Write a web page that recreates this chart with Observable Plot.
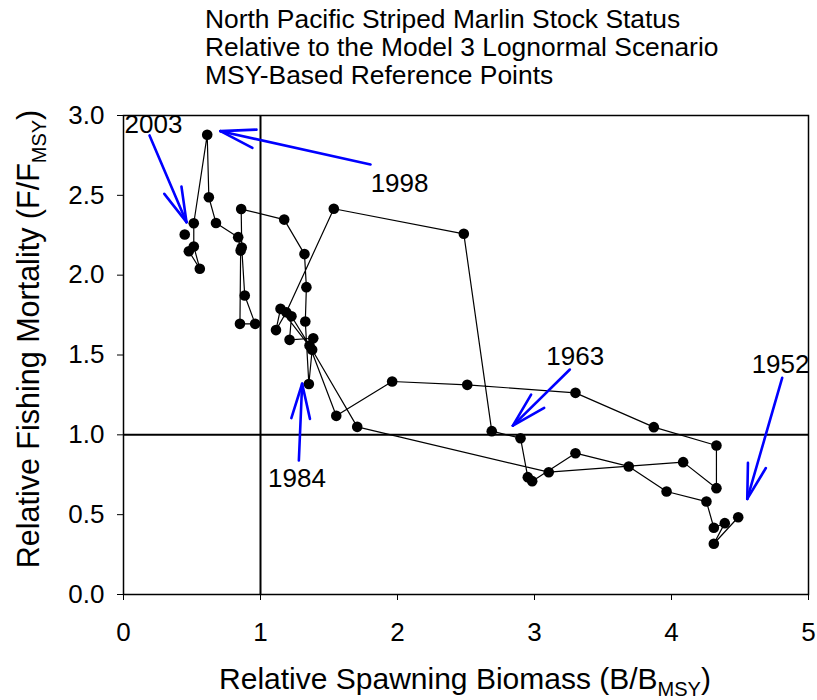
<!DOCTYPE html>
<html><head><meta charset="utf-8">
<script src="https://cdn.jsdelivr.net/npm/d3@7"></script>
<script src="https://cdn.jsdelivr.net/npm/@observablehq/plot@0.6"></script>
<style>
body{margin:0;background:#fff;}
#title{position:absolute;left:205px;top:0;padding-top:5px;font:26.4px/28px "Liberation Sans",Arial,sans-serif;color:#000;white-space:nowrap;}
#chart{position:absolute;left:0;top:95px;}
</style></head><body>
<div id="title">North Pacific Striped Marlin Stock Status<br>Relative to the Model 3 Lognormal Scenario<br>MSY-Based Reference Points</div>
<div id="chart"></div>
<script>
// Stock trajectory, 1952-2003
const years = [1952,1953,1954,1955,1956,1957,1958,1959,1960,1961,1962,1963,1964,1965,1966,1967,1968,1969,1970,1971,1972,1973,1974,1975,1976,1977,1978,1979,1980,1981,1982,1983,1984,1985,1986,1987,1988,1989,1990,1991,1992,1993,1994,1995,1996,1997,1998,1999,2000,2001,2002,2003];
const biomass = [4.487,4.309,4.389,4.309,4.255,3.964,3.688,3.299,2.983,2.951,2.898,2.688,2.484,1.535,1.188,1.113,1.146,1.377,1.706,3.104,4.085,4.328,4.328,3.871,3.299,2.509,1.961,1.553,1.358,1.226,1.212,1.385,1.353,1.327,1.335,1.321,1.173,0.859,0.863,0.885,0.961,0.850,0.855,0.837,0.675,0.623,0.611,0.513,0.513,0.557,0.477,0.447];
const fishing = [0.484,0.318,0.447,0.418,0.582,0.645,0.802,0.885,0.710,0.735,0.979,1.023,2.259,2.416,1.768,1.656,1.789,1.533,1.050,0.766,0.829,0.666,0.933,1.048,1.263,1.313,1.334,1.119,1.559,1.743,1.595,1.605,1.318,1.710,1.925,2.132,2.348,2.414,2.173,1.873,1.695,1.695,2.154,2.238,2.327,2.488,2.879,2.325,2.180,2.040,2.150,2.255];
const lastConnectedYear = 2002;

const xTicks = [0,1,2,3,4,5];
const yTicks = [0,0.5,1,1.5,2,2.5,3];
const refB = [1];
const refF = [1];

// Year annotations
const labelText = ["2003","1998","1963","1952","1984"];
const labelX = [0.219,2.015,3.297,4.796,1.266];
const labelY = [2.944,2.574,1.492,1.440,0.726];
const arrowX1 = [0.190,1.803,3.258,4.808,1.280];
const arrowY1 = [2.875,2.693,1.409,1.357,0.839];
const arrowX2 = [0.460,0.708,2.842,4.553,1.304];
const arrowY2 = [2.332,2.902,1.058,0.599,1.320];

const W = 817, H = 605, mL = 123, mR = 9, mT = 20, mB = 106;
const font = '"Liberation Sans", Arial, sans-serif';

const pts = years.map((yr,i) => ({year: yr, b: biomass[i], f: fishing[i]}));
const labels = labelText.map((t,i) => ({t, x: labelX[i], y: labelY[i]}));
const arrows = labelText.map((t,i) => ({x1: arrowX1[i], y1: arrowY1[i], x2: arrowX2[i], y2: arrowY2[i]}));

const kx = (W - mL - mR) / 5, ky = (H - mT - mB) / 3;
const wingLen = 36, wingAngle = 15 * Math.PI / 180;
const wings = arrows.flatMap(a => {
  const dx = (a.x1 - a.x2) * kx, dy = -(a.y1 - a.y2) * ky;
  const th = Math.atan2(dy, dx);
  return [-1, 1].map(s => ({
    x1: a.x2, y1: a.y2,
    x2: a.x2 + wingLen * Math.cos(th + s * wingAngle) / kx,
    y2: a.y2 - wingLen * Math.sin(th + s * wingAngle) / ky
  }));
});

const plot = Plot.plot({
  width: W, height: H,
  marginLeft: mL, marginRight: mR, marginTop: mT, marginBottom: mB,
  style: {fontFamily: font, fontSize: "26px", color: "#000", background: "#fff", overflow: "visible"},
  x: {domain: [0, 5], ticks: xTicks, tickSize: 6, tickPadding: 22, tickFormat: d3.format("d"), label: null},
  y: {domain: [0, 3], ticks: yTicks, tickSize: 6, tickPadding: 13, tickFormat: d3.format(".1f"), label: null},
  marks: [
    Plot.ruleX(refB, {x: d => d, stroke: "#000", strokeWidth: 2}),
    Plot.ruleY(refF, {y: d => d, stroke: "#000", strokeWidth: 2}),
    Plot.line(pts.filter(d => d.year <= lastConnectedYear), {x: "b", y: "f", stroke: "#000", strokeWidth: 1.2}),
    Plot.dot(pts, {x: "b", y: "f", r: 5.3, fill: "#000", stroke: "none"}),
    Plot.link(arrows, {x1: "x1", y1: "y1", x2: "x2", y2: "y2", stroke: "#0000ff", strokeWidth: 2.6, strokeLinecap: "round"}),
    Plot.link(wings, {x1: "x1", y1: "y1", x2: "x2", y2: "y2", stroke: "#0000ff", strokeWidth: 2.6, strokeLinecap: "round"}),
    Plot.text(labels, {x: "x", y: "y", text: "t", fontSize: 26, fill: "#000"}),
    Plot.frame({stroke: "#000", strokeWidth: 1.5})
  ]
});

const svg = d3.select(plot);
const xl = svg.append("text")
  .attr("x", 465).attr("y", 594)
  .attr("text-anchor", "middle").attr("font-size", 30).attr("font-family", font).attr("fill", "#000");
xl.append("tspan").text("Relative Spawning Biomass (B/B");
xl.append("tspan").attr("font-size", 20).attr("dy", 7).text("MSY");
xl.append("tspan").attr("dy", -7).text(")");

const yl = svg.append("text")
  .attr("transform", "translate(39,244) rotate(-90)")
  .attr("text-anchor", "middle").attr("font-size", 30.5).attr("font-family", font).attr("fill", "#000");
yl.append("tspan").text("Relative Fishing Mortality (F/F");
yl.append("tspan").attr("font-size", 20).attr("dy", 7).text("MSY");
yl.append("tspan").attr("dy", -7).text(")");

document.getElementById("chart").appendChild(plot);
</script>
</body></html>
